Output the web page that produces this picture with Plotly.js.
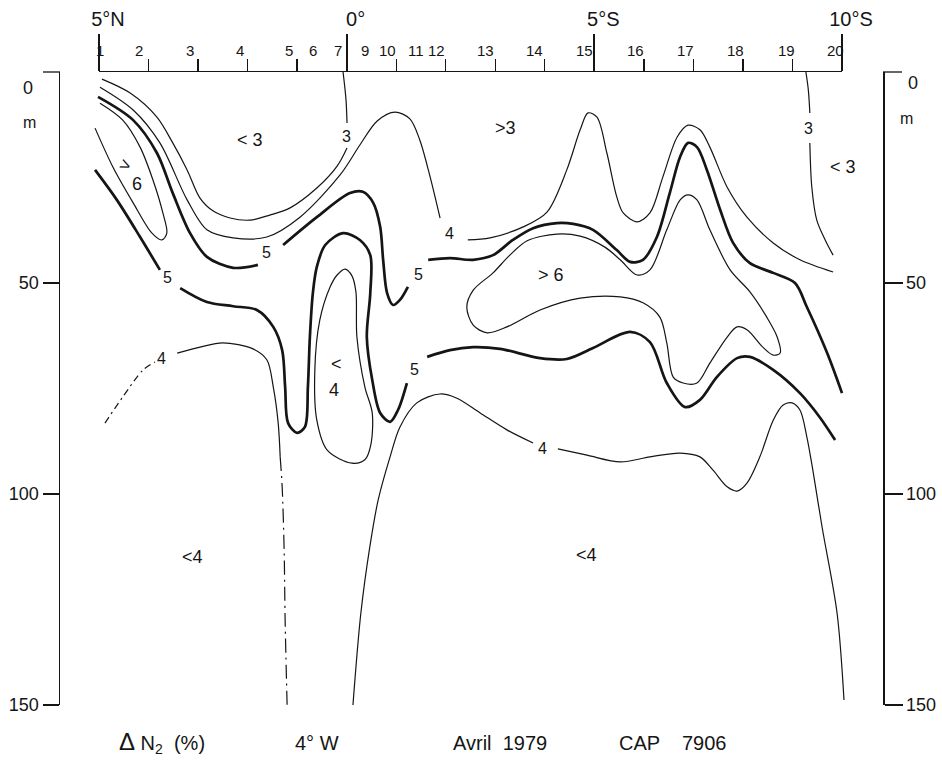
<!DOCTYPE html>
<html>
<head>
<meta charset="utf-8">
<script src="https://cdn.plot.ly/plotly-3.0.1.min.js"></script>
<style>html,body{margin:0;padding:0;background:#fff;}#chart{width:942px;height:768px;}</style>
</head>
<body>
<div id="chart"></div>
<script>
// ---------- DATA (latitude: + north / - south, depth in m) ----------
const stationNums = [1,2,3,4,5,6,7,9,10,11,12,13,14,15,16,17,18,19,20];
const stationLat  = [4.93,4.16,3.13,2.12,1.13,0.63,0.14,-0.42,-0.87,-1.43,-1.86,-2.85,-3.84,-4.85,-5.88,-6.89,-7.88,-8.91,-9.90];
const stationSymbol = ['square','circle','circle','circle','circle','circle','circle','circle','circle','circle','circle','circle','circle','circle','circle','circle-open','circle','circle','circle'];

const latTickVals = [5, 0, -5, -10];
const latTickText = ['5°N', '0°', '5°S', '10°S'];
const depthTickVals = [50, 100, 150];
const depthTickText = ['50', '100', '150'];

// isoline 3 (west)
const c3W_lat = [4.95,4.38,3.84,3.52,3.23,2.97,2.71,2.36,1.96,1.56,1.15,0.61,0.20,0.00,null,0.00,0.02,0.08];
const c3W_dep = [1.7,5.0,10.7,16.8,23.2,29.9,32.9,34.6,35.1,33.9,32.2,27.5,22.3,18.0,null,12.1,6.6,0];
// isoline 3 (east)
const c3E_lat = [-9.27,-9.32,-9.35,null,-9.35,-9.39,-9.49,-9.66,-9.82];
const c3E_dep = [0,4.3,9.7,null,16.8,27.3,35.1,39.8,43.4];
// isoline 4 (upper)
const c4N_lat = [4.99,4.32,3.78,3.23,2.83,2.30,1.62,0.95,0.14,-0.26,-0.61,-0.97,-1.27,-1.47,-1.68,-1.88,null,
  -2.44,-2.89,-3.56,-4.04,-4.44,-4.71,-4.87,-5.05,-5.25,-5.45,-5.58,-5.86,-6.12,-6.38,-6.67,-6.89,-7.13,-7.33,-7.68,-8.08,-8.61,-9.15,-9.82];
const c4N_dep = [3.6,9.0,16.8,30.3,37.4,39.3,39.1,34.4,24.4,17.3,11.6,9.5,11.1,16.1,24.9,34.6,null,
  39.8,39.3,36.7,33.2,23.2,13.7,9.7,10.7,19.2,29.6,33.4,35.5,33.4,24.9,15.4,12.6,13.7,17.8,27.3,34.4,40.5,44.5,47.4];
// isoline 5 (upper, thick)
const c5N_lat = [5.03,4.32,3.84,3.52,3.17,2.83,2.30,1.80,null,1.29,0.61,-0.06,-0.32,-0.53,-0.67,-0.73,-0.81,-0.93,-1.07,-1.23,null,
  -1.64,-2.08,-2.55,-2.95,-3.35,-3.76,-4.24,-4.57,-4.97,-5.45,-5.72,-5.98,-6.26,-6.52,-6.73,-6.89,-7.07,-7.27,-7.54,-7.80,-8.14,-8.61,-9.05,-9.29,-9.70,-10.0];
const c5N_dep = [5.9,11.4,19.2,28.7,38.2,43.8,46.4,45.7,null,41.0,34.4,28.7,28.4,31.0,36.7,44.5,52.4,55.2,54.0,50.9,null,
  44.5,44.1,44.5,43.4,39.8,37.0,35.8,36.0,37.4,42.2,45.0,44.5,39.1,28.7,20.1,16.8,17.8,23.2,32.7,40.5,45.3,47.6,50.0,55.7,66.6,76.1];
// isoline 6 (west tongue)
const c6W_lat = [4.99,4.53,4.18,3.92,3.72,3.64,3.74,3.94,4.32,4.73,5.09];
const c6W_dep = [7.4,11.4,17.8,25.6,33.4,38.2,39.8,38.2,31.0,22.5,13.3];
// isoline 6 (central closed)
const c6C_lat = [-3.29,-3.64,-4.24,-4.71,-5.21,-5.52,-5.86,-6.12,-6.46,-6.73,-6.89,-7.07,-7.33,-7.74,-8.14,-8.48,-8.69,-8.75,-8.61,-8.40,-8.08,-7.88,-7.68,-7.33,-7.07,-6.79,-6.59,-6.46,-6.32,-5.98,-5.52,-4.71,-3.90,-3.23,-2.83,-2.55,-2.42,-2.55,-2.95,-3.29];
const c6C_dep = [43.4,40.0,38.4,38.9,41.5,44.5,48.1,46.9,37.4,30.3,29.1,30.3,37.4,46.9,52.1,58.1,62.8,66.6,67.1,65.2,61.1,60.4,62.8,69.0,73.7,73.7,72.3,64.2,58.1,54.7,53.3,53.6,56.4,60.4,61.8,60.0,55.7,51.7,47.6,43.4];
// isoline 5 (lower, thick)
const c5S_lat = [5.09,4.65,4.18,3.78,null,3.37,2.83,2.30,1.82,1.49,1.31,1.25,1.19,1.01,0.85,0.79,0.75,0.69,0.61,0.44,0.08,-0.26,-0.47,-0.47,-0.40,-0.51,-0.67,-0.87,-1.03,-1.21,null,
  -1.62,-2.08,-2.55,-3.09,-3.90,-4.44,-4.97,-5.72,-6.12,-6.46,-6.83,-7.13,-7.47,-7.88,-8.14,-8.61,-9.15,-9.55,-9.86];
const c5S_dep = [23.2,30.3,39.1,46.9,null,51.2,54.5,55.5,56.4,60.4,65.9,74.6,83.2,85.5,84.1,74.6,62.8,52.4,46.2,41.0,38.2,39.8,43.4,52.4,62.8,73.0,80.8,82.9,80.1,73.7,null,
  67.5,65.9,65.2,65.6,67.8,68.0,65.4,61.6,64.0,73.7,79.4,77.7,72.3,67.8,67.5,70.6,76.1,81.8,87.2];
// isoline 4 (south-west, three pieces)
const c4SWa_lat = [4.89,4.53,4.12,3.88];
const c4SWa_dep = [83.2,77.0,70.6,68.7];
const c4SWb_lat = [3.43,2.97,2.51,1.90,1.62,1.49,1.39,1.35];
const c4SWb_dep = [66.6,65.2,64.2,65.6,68.2,74.6,83.2,91.2];
const c4SWc_lat = [1.35,1.31,1.27,1.25,1.21];
const c4SWc_dep = [91.2,98.3,113.3,129.9,150];
// isoline 4 (closed cell near equator)
const c4L_lat = [0.65,0.55,0.34,0.20,0.04,-0.10,-0.18,-0.20,-0.36,-0.51,-0.48,-0.36,-0.10,0.40,0.61,0.65];
const c4L_dep = [70.6,58.8,50.9,48.1,46.7,48.3,52.1,62.8,74.6,80.8,88.4,91.9,92.7,89.6,82.5,70.6];
// isoline 4 (south)
const c4S_lat = [-0.12,-0.28,-0.46,-0.63,-0.87,-1.07,-1.41,-1.88,-2.22,-2.69,-3.23,-3.76,null,
  -4.26,-4.85,-5.52,-6.12,-6.73,-7.13,-7.39,-7.68,-7.88,-8.08,-8.34,-8.61,-8.81,-8.99,-9.15,-9.29,-9.41,-9.60,-9.90,-10.04];
const c4S_dep = [150,128.2,112.6,101.4,91.2,84.1,78.4,76.3,77.3,80.8,84.8,87.9,null,
  89.3,90.8,92.4,91.2,90.3,91.2,94.3,98.3,99.3,97.4,91.2,82.5,78.9,78.4,80.1,86.5,94.3,108.0,128.2,148.8];

// contour labels [text, lat, depth]
const lineLabels = [
  ['3', 0.02, 15.4], ['3', -9.32, 13.3],
  ['4', -2.08, 38.2], ['4', 3.74, 67.8], ['4', -3.94, 89.1],
  ['5', 1.62, 42.7], ['5', -1.45, 47.9], ['5', 3.62, 48.8], ['5', -1.37, 70.6]
];
// region labels [text, lat, depth, angle]
const regionLabels = [
  ['&lt; 3', 1.96, 16.1, 0], ['&gt;3', -3.21, 13.3, 0], ['&lt; 3', -10.02, 22.5, 0],
  ['&gt;', 4.48, 22.0, 25], ['6', 4.24, 26.5, 0],
  ['&gt; 6', -4.12, 48.1, 0],
  ['&lt;', 0.22, 69.2, 0], ['4', 0.26, 75.4, 0],
  ['&lt;4', 3.13, 114.9, 0], ['&lt;4', -4.83, 114.5, 0]
];
const footer = ['<span style="font-size:24px">Δ</span> N<sub>2</sub>  (%)', '4° W', 'Avril  1979', 'CAP    7906'];

// ---------- BUILD ----------
const INK = '#151515';
const FONT = 'Liberation Sans, Arial, sans-serif';
function iso(lat, dep, width, dash, yax) {
  return {type:'scatter', mode:'lines', x:lat, y:dep, xaxis:'x', yaxis:yax||'y',
    connectgaps:false, hoverinfo:'skip',
    line:{color:INK, width:width, shape:'spline', smoothing:0.9, dash:dash||'solid'}};
}
const THIN = 1.2, THICK = 2.7;
const traces = [
  iso(c3W_lat, c3W_dep, THIN),
  iso(c3E_lat, c3E_dep, THIN, 'solid', 'y2'),
  iso(c4N_lat, c4N_dep, THIN),
  iso(c5N_lat, c5N_dep, THICK),
  iso(c6W_lat, c6W_dep, THIN),
  iso(c6C_lat, c6C_dep, THIN),
  iso(c5S_lat, c5S_dep, THICK),
  iso(c4SWa_lat, c4SWa_dep, THIN, '7px,4px,2px,4px'),
  iso(c4SWb_lat, c4SWb_dep, THIN),
  iso(c4SWc_lat, c4SWc_dep, THIN, '14px,5px,2px,5px'),
  iso(c4L_lat, c4L_dep, THIN),
  iso(c4S_lat, c4S_dep, THIN),
  {type:'scatter', mode:'markers', x:stationLat, y:stationLat.map(()=>-1), xaxis:'x2', yaxis:'y',
   cliponaxis:false, hoverinfo:'skip',
   marker:{size:5, color:INK, symbol:stationSymbol, line:{color:INK, width:1.2}}}
];

const annotations = [];
stationNums.forEach((n,i)=>annotations.push({text:String(n), x:stationLat[i], xref:'x2', y:1, yref:'paper',
  xanchor:'center', yanchor:'bottom', yshift:11, xshift:-2, showarrow:false, font:{family:FONT, size:15, color:INK}}));
lineLabels.forEach(l=>annotations.push({text:l[0], x:l[1], y:l[2], xref:'x', yref:'y', xanchor:'center', yanchor:'middle',
  showarrow:false, font:{family:FONT, size:16, color:INK}}));
regionLabels.forEach(l=>annotations.push({text:l[0], x:l[1], y:l[2], xref:'x', yref:'y', xanchor:'center', yanchor:'middle',
  showarrow:false, textangle:l[3], font:{family:FONT, size:18, color:INK}}));
// axis unit labels
[['0',-0.039,0.975,18],['m',-0.037,0.921,16],['0',1.0365,0.983,18],['m',1.028,0.927,16]].forEach(a=>annotations.push({
  text:a[0], x:a[1], y:a[2], xref:'paper', yref:'paper', xanchor:'center', yanchor:'middle', showarrow:false,
  font:{family:FONT, size:a[3], color:INK}}));
const footX = [0.124, 0.3123, 0.5346, 0.7448];
footer.forEach((t,i)=>annotations.push({text:t, x:footX[i], y:-0.060, xref:'paper', yref:'paper', xanchor:'center',
  yanchor:'middle', showarrow:false, font:{family:FONT, size:20, color:INK}}));

const yCommon = {range:[150,0], showline:true, linecolor:INK, linewidth:1.5, ticks:'outside', tickcolor:INK,
  tickwidth:1.3, tickmode:'array', tickvals:depthTickVals, ticktext:depthTickText, showgrid:false, zeroline:false,
  tickfont:{family:FONT, size:18, color:INK}, fixedrange:true};

// short ticks at 0 m on both depth axes
const shapes = [
  {type:'line', xref:'paper', yref:'paper', x0:-17/823, x1:0, y0:1, y1:1, line:{color:INK, width:1.3}},
  {type:'line', xref:'paper', yref:'paper', x0:1, x1:1+19/823, y0:1, y1:1, line:{color:INK, width:1.3}}
];

const layout = {
  width:942, height:768, margin:{l:60, r:59, t:72, b:63}, showlegend:false,
  paper_bgcolor:'#fff', plot_bgcolor:'rgba(0,0,0,0)',
  xaxis:{range:[5.798,-10.828], visible:false, fixedrange:true},
  xaxis2:{anchor:'y', side:'top', domain:[0.0474,0.9502], range:[5,-10], showline:true, linecolor:INK, linewidth:1.5,
    ticks:'outside', tickmode:'array', tickvals:latTickVals, ticktext:latTickText, ticklen:37, tickwidth:2, tickcolor:INK,
    minor:{tickmode:'linear', tick0:0, dtick:1, ticks:'outside', ticklen:12, tickwidth:1.3, tickcolor:INK, showgrid:false},
    showgrid:false, zeroline:false, ticklabelshift:-9, tickfont:{family:FONT, size:20, color:INK}, fixedrange:true},
  yaxis:Object.assign({}, yCommon, {anchor:'x', side:'left', ticklen:16}),
  yaxis2:Object.assign({}, yCommon, {anchor:'x', side:'right', overlaying:'y', ticklen:18}),
  shapes:shapes,
  annotations:annotations
};
Plotly.newPlot('chart', traces, layout, {staticPlot:true, displayModeBar:false});
</script>
</body>
</html>
